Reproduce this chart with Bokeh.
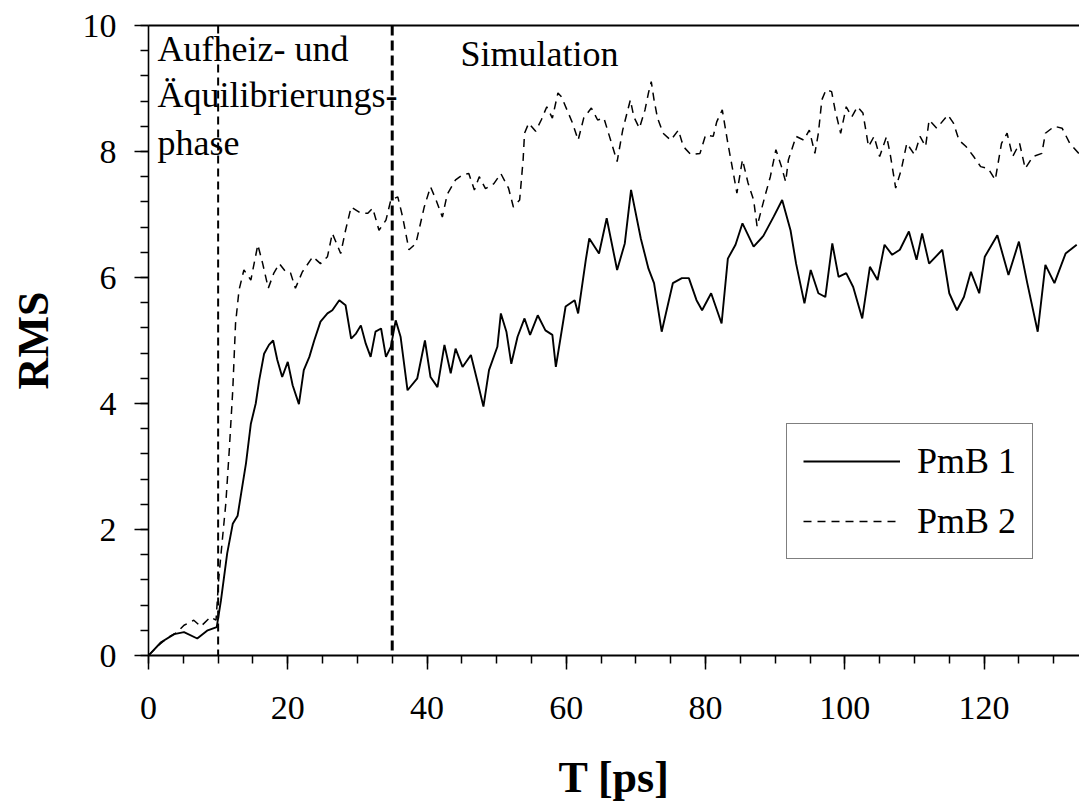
from bokeh.plotting import figure
from bokeh.models import (ColumnDataSource, Range1d, LinearAxis, SingleIntervalTicker,
                          FixedTicker, Legend, LegendItem, Span, Label)
from bokeh.embed import file_html
from bokeh.resources import INLINE

# ---------------- data ----------------
t_pmb1 = [0, 1.8, 3.7, 5.1, 7.0, 8.5, 9.8, 10.4, 11.3, 12.1, 12.8, 13.3, 14.0, 14.7, 15.4,
          15.9, 16.6, 17.3, 17.9, 18.5, 19.2, 20.0, 20.7, 21.6, 22.3, 23.1, 23.8, 24.7, 25.7,
          26.4, 27.4, 28.3, 29.1, 29.8, 30.5, 31.2, 31.9, 32.6, 33.4, 34.1, 34.8, 35.5, 36.2,
          37.2, 38.6, 39.7, 40.5, 41.5, 42.5, 43.4, 44.1, 45.1, 46.3, 47.3, 48.1, 48.9, 50.1,
          50.6, 51.4, 52.1, 53.0, 54.0, 54.8, 55.9, 57.0, 58.0, 58.5, 59.9, 61.2, 61.7, 62.8,
          63.3, 64.7, 65.8, 67.3, 68.4, 69.3, 70.7, 71.8, 72.6, 73.7, 75.3, 76.6, 77.6, 78.7,
          79.5, 80.8, 82.3, 83.2, 84.3, 85.3, 86.9, 88.3, 89.8, 91.0, 92.2, 93.0, 94.2, 95.1,
          96.2, 97.2, 98.2, 99.1, 100.2, 101.2, 102.5, 103.6, 104.7, 105.7, 106.8, 107.9,
          109.2, 110.3, 111.1, 112.1, 114.0, 115.0, 116.1, 117.1, 118.1, 119.3, 120.1, 121.9,
          123.5, 125.0, 126.2, 127.7, 128.8, 130.1, 131.7, 133.3]
rms_pmb1 = [0.0, 0.21, 0.34, 0.37, 0.27, 0.40, 0.45, 0.87, 1.62, 2.09, 2.22, 2.57, 3.05, 3.68,
            4.00, 4.37, 4.79, 4.93, 5.00, 4.69, 4.42, 4.66, 4.29, 3.99, 4.53, 4.74, 5.00, 5.30,
            5.43, 5.48, 5.64, 5.56, 5.03, 5.11, 5.24, 4.95, 4.74, 5.14, 5.19, 4.74, 4.90, 5.32,
            5.06, 4.21, 4.40, 5.00, 4.42, 4.26, 4.93, 4.48, 4.87, 4.58, 4.77, 4.32, 3.95, 4.53,
            4.90, 5.43, 5.14, 4.63, 5.06, 5.35, 5.09, 5.40, 5.16, 5.09, 4.58, 5.54, 5.64, 5.43,
            6.28, 6.62, 6.38, 6.94, 6.12, 6.54, 7.39, 6.62, 6.14, 5.91, 5.14, 5.91, 5.99, 5.99,
            5.64, 5.48, 5.75, 5.27, 6.30, 6.52, 6.86, 6.49, 6.66, 6.97, 7.23, 6.75, 6.22, 5.59,
            6.12, 5.75, 5.69, 6.54, 6.01, 6.07, 5.85, 5.35, 6.17, 5.96, 6.52, 6.36, 6.44, 6.73,
            6.28, 6.70, 6.22, 6.44, 5.75, 5.48, 5.69, 6.09, 5.75, 6.33, 6.67, 6.04, 6.57, 5.91,
            5.14, 6.20, 5.91, 6.38, 6.52]

t_pmb2 = [0, 1.5, 3.0, 4.0, 5.1, 6.5, 7.5, 8.9, 9.7, 10.1, 10.6, 11.1, 11.6, 12.1, 12.5, 13.0,
          13.7, 14.7, 15.7, 16.4, 17.2, 18.0, 18.8, 19.7, 20.4, 21.1, 22.1, 23.6, 24.7, 25.7,
          26.4, 27.6, 28.3, 29.1, 30.5, 31.5, 32.2, 33.1, 34.1, 34.8, 35.8, 36.5, 37.4, 38.4,
          39.6, 40.5, 41.3, 42.2, 42.9, 44.1, 45.1, 46.0, 46.8, 47.5, 48.4, 49.6, 50.6, 51.7,
          52.4, 53.3, 53.8, 54.0, 54.6, 55.6, 56.4, 57.2, 58.0, 58.8, 59.3, 60.1, 60.9, 61.7,
          62.5, 63.6, 64.5, 65.4, 66.2, 67.3, 68.1, 69.2, 69.7, 70.5, 71.3, 71.8, 72.2, 72.6,
          73.1, 73.9, 75.0, 76.1, 76.8, 77.9, 79.2, 80.0, 81.1, 81.6, 82.4, 83.2, 84.0, 84.5,
          85.3, 86.1, 86.9, 87.4, 88.0, 88.5, 89.3, 90.1, 90.9, 91.5, 91.9, 93.0, 94.1, 94.9,
          95.7, 96.2, 96.7, 97.3, 98.1, 98.6, 99.4, 100.2, 101.0, 101.8, 102.6, 103.4, 104.2,
          105.0, 106.0, 106.5, 107.3, 108.1, 108.9, 110.0, 110.8, 111.6, 112.1, 113.2, 114.8,
          115.6, 116.4, 117.4, 118.5, 119.5, 120.6, 121.6, 122.5, 123.3, 124.1, 125.1, 125.9,
          127.0, 128.3, 128.8, 130.1, 131.2, 132.3, 133.6]
rms_pmb2 = [0.0, 0.17, 0.30, 0.36, 0.48, 0.56, 0.46, 0.61, 0.56, 1.24, 1.83, 2.41, 3.26, 4.21,
            5.27, 5.80, 6.12, 5.96, 6.52, 6.22, 5.83, 6.07, 6.22, 6.09, 6.07, 5.83, 6.09, 6.33,
            6.22, 6.33, 6.70, 6.38, 6.75, 7.12, 7.02, 7.02, 7.10, 6.75, 6.91, 7.23, 7.28, 6.96,
            6.44, 6.54, 7.12, 7.44, 7.23, 6.96, 7.32, 7.55, 7.63, 7.65, 7.39, 7.60, 7.41, 7.49,
            7.65, 7.42, 7.12, 7.23, 7.87, 8.29, 8.45, 8.32, 8.50, 8.71, 8.53, 8.93, 8.87, 8.66,
            8.45, 8.18, 8.53, 8.69, 8.50, 8.53, 8.24, 7.84, 8.34, 8.82, 8.55, 8.37, 8.66, 8.93,
            9.11, 8.82, 8.53, 8.29, 8.18, 8.34, 8.08, 7.95, 7.97, 8.26, 8.24, 8.47, 8.66, 8.13,
            7.65, 7.34, 7.87, 7.50, 7.23, 6.81, 7.07, 7.28, 7.60, 8.03, 7.76, 7.52, 7.87, 8.24,
            8.18, 8.34, 7.97, 8.29, 8.82, 8.98, 8.95, 8.66, 8.29, 8.71, 8.55, 8.71, 8.61, 8.08,
            8.24, 7.92, 8.24, 7.97, 7.42, 7.71, 8.13, 7.95, 8.24, 8.08, 8.50, 8.37, 8.58, 8.45,
            8.18, 8.08, 7.92, 7.76, 7.73, 7.55, 8.13, 8.29, 7.92, 8.13, 7.73, 7.92, 7.97, 8.29,
            8.40, 8.37, 8.13, 7.97]

series_names = ["PmB 1", "PmB 2"]
phase_bounds = [10, 35]
phase_texts = ["Aufheiz- und", "Äquilibrierungs-", "phase"]
sim_text = "Simulation"

# ---------------- figure ----------------
FONT = "Liberation Serif"

p = figure(width=1079, height=805, output_backend="svg", toolbar_location=None,
           x_range=Range1d(0, 133.7), y_range=Range1d(0, 10),
           min_border_left=148, min_border_right=0, min_border_top=25,
           min_border_bottom=150)
p.xgrid.visible = False
p.ygrid.visible = False
p.outline_line_color = None
p.background_fill_color = "white"
p.border_fill_color = "white"

xa = p.below[0]
ya = p.left[0]
xa.ticker = SingleIntervalTicker(interval=20, num_minor_ticks=4)
ya.ticker = SingleIntervalTicker(interval=2, num_minor_ticks=5)
for ax, lw in ((xa, 2), (ya, 1.6)):
    ax.axis_line_width = lw
    ax.axis_line_color = "black"
    ax.major_tick_in = 0
    ax.major_tick_out = 14
    ax.minor_tick_in = 0
    ax.minor_tick_out = 8
    ax.major_tick_line_width = 1.5
    ax.minor_tick_line_width = 1.5
    ax.major_tick_line_color = "black"
    ax.minor_tick_line_color = "black"
    ax.major_label_text_font = FONT
    ax.major_label_text_font_size = "34px"
    ax.major_label_text_color = "black"
    ax.axis_label_text_font = FONT
    ax.axis_label_text_font_size = "44px"
    ax.axis_label_text_font_style = "bold"
    ax.axis_label_text_color = "black"
xa.major_label_standoff = 27
ya.major_label_standoff = 18
xa.axis_label = "T [ps]"
ya.axis_label = "RMS"
xa.axis_label_standoff = 31
ya.axis_label_standoff = 22

top = LinearAxis(ticker=FixedTicker(ticks=[]), axis_line_width=2, axis_line_color="black",
                 major_tick_line_color=None, minor_tick_line_color=None)
p.add_layout(top, "above")

src1 = ColumnDataSource(dict(t=t_pmb1, rms=rms_pmb1))
src2 = ColumnDataSource(dict(t=t_pmb2, rms=rms_pmb2))
r2 = p.line("t", "rms", source=src2, line_color="black", line_width=1.5, line_dash="8 6")
r1 = p.line("t", "rms", source=src1, line_color="black", line_width=1.9)

p.add_layout(Span(location=phase_bounds[0], dimension="height", line_color="black",
                  line_width=2, line_dash="8 5"))
p.add_layout(Span(location=phase_bounds[1], dimension="height", line_color="black",
                  line_width=3, line_dash="10 5"))

for txt, yy in zip(phase_texts, [9.63, 8.89, 8.14]):
    p.add_layout(Label(x=1.3, y=yy, text=txt, text_font=FONT, text_font_size="36px",
                       text_color="black", text_baseline="alphabetic", text_align="left"))
p.add_layout(Label(x=44.8, y=9.55, text=sim_text, text_font=FONT, text_font_size="36px",
                   text_color="black", text_baseline="alphabetic", text_align="left"))

legend = Legend(items=[LegendItem(label=series_names[0], renderers=[r1]),
                       LegendItem(label=series_names[1], renderers=[r2])],
                location=(638, 96), padding=16, spacing=18, glyph_width=97,
                glyph_height=40, label_height=40, label_standoff=17,
                label_text_font=FONT, label_text_font_size="36px",
                label_text_color="black", border_line_color="black",
                border_line_width=1.5, background_fill_color="white",
                background_fill_alpha=1.0, margin=0)
p.add_layout(legend, "center")

open("out.html", "w").write(file_html(p, INLINE))
